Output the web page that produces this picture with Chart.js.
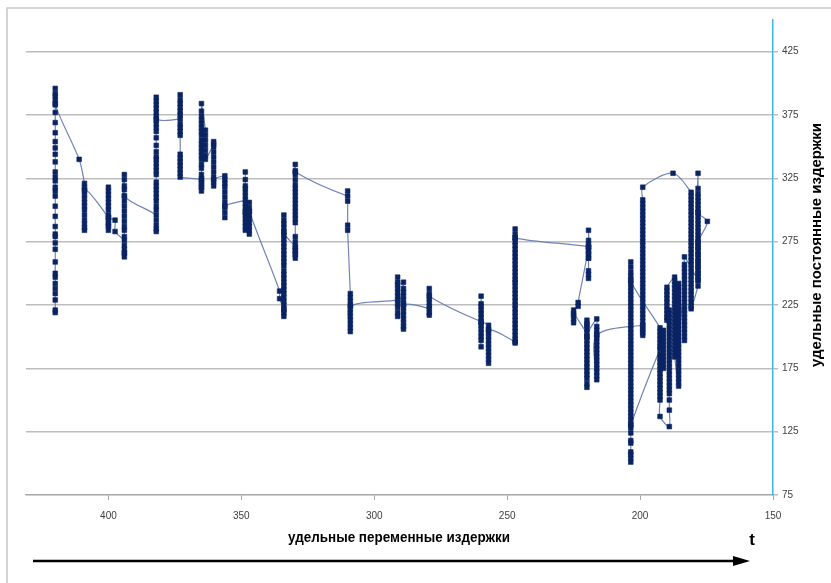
<!DOCTYPE html>
<html>
<head>
<meta charset="utf-8">
<script src="https://cdn.jsdelivr.net/npm/chart.js@4.4.1/dist/chart.umd.min.js"></script>
<style>
  html, body { margin: 0; padding: 0; background: #ffffff; }
  #wrap { width: 831px; height: 583px; position: relative; }
</style>
</head>
<body>
<div id="wrap"><canvas id="c" width="831" height="583"></canvas></div>
<script>
// Axis ticks
const xTicks = [150, 200, 250, 300, 350, 400];
const yTicks = [75, 125, 175, 225, 275, 325, 375, 425];

// Texts
const xTitle = 'удельные переменные издержки';
const yTitle = 'удельные постоянные издержки';
const timeLabel = 't';

// Observations in time order: each run is one value of variable cost
// with the fixed-cost values recorded at it, in sequence.
const runX = [
  420, 411, 409, 400, 397.5, 394, 382, 373, 365, 363.5,
  360.4, 356.2, 348.5, 347, 335.6, 334, 329.7, 310, 309, 291.2,
  289, 279.3, 259.8, 257, 247, 219.4, 223.3, 225, 220, 216.3,
  199, 187.6, 180.8, 178.2, 174.7, 178.2, 183.3, 185.5, 187, 189.9,
  189, 192.5, 203.5, 192.5, 191.2
];
const runY = [
  [219, 221, 229, 234, 238, 242, 247, 250, 259, 269, 274, 279, 281, 287, 295, 303, 311, 315, 318, 323, 326, 330, 338, 344, 349, 354, 361, 369, 377, 384, 387, 390, 392, 396, 383],
  [340],
  [321, 318, 315, 312, 309, 306, 303, 300, 296, 292, 289, 286, 284, 316],
  [294, 290, 287, 284, 288, 292, 296, 300, 303, 306, 309, 312, 315, 318, 294],
  [292, 283],
  [276, 272, 269, 266, 263, 266, 279, 284, 287, 291, 295, 299, 303, 307, 311, 316, 319, 324, 328, 311],
  [296, 292, 288, 285, 283, 300, 303, 307, 310, 313, 316, 319, 322, 328, 331, 334, 337, 340, 342, 346, 351, 357, 362, 365, 368, 371, 374, 377, 380, 383, 386, 389, 372],
  [372, 375, 378, 381, 384, 387, 391, 368, 365, 362, 359, 344, 341, 338, 335, 332, 329, 326],
  [324, 321, 318, 315, 318, 322, 325, 328, 333, 336, 340, 343, 346, 349, 352, 355, 359, 362, 365, 368, 371, 374, 378, 384],
  [363, 359, 355, 351, 347, 343, 340],
  [352, 354, 350, 346, 342, 338, 334, 330, 326, 322, 319, 324],
  [327, 324, 321, 318, 314, 310, 306, 302, 298, 294, 303],
  [308, 311, 314, 317, 319, 324, 330, 305, 302, 299, 296, 293, 290, 287, 284, 298],
  [281, 284, 287, 290, 293, 296, 299, 302, 306, 299],
  [236, 230],
  [221, 216, 219, 222, 225, 228, 231, 234, 237, 240, 243, 246, 249, 252, 256, 259, 262, 265, 268, 271, 274, 277, 280, 283, 286, 289, 292, 296, 282],
  [271, 268, 265, 262, 265, 268, 271, 275, 279, 290, 293, 296, 299, 302, 305, 308, 311, 314, 317, 320, 324, 328, 331, 336, 330],
  [311, 315, 307, 288, 284],
  [234, 231, 228, 225, 222, 219, 216, 213, 210, 207, 204, 224],
  [229, 232, 235, 238, 241, 243, 247, 226, 223, 219, 216],
  [243, 238, 235, 232, 229, 226, 223, 220, 217, 214, 211, 208, 206, 225],
  [222, 219, 217, 224, 227, 230, 234, 238, 232],
  [212, 215, 218, 221, 224, 226, 232, 209, 206, 203, 200, 197, 192, 211],
  [209, 206, 203, 200, 197, 194, 191, 188, 185, 182, 179, 205],
  [196, 195, 198, 201, 204, 207, 210, 213, 216, 219, 222, 225, 228, 231, 234, 237, 240, 243, 245, 248, 251, 254, 257, 260, 263, 266, 269, 272, 275, 278, 281, 285, 278],
  [271, 268, 265, 262, 252, 249, 246, 262, 266, 270, 273, 276, 284, 271],
  [227, 224],
  [221, 217, 214, 211, 218],
  [203, 206, 209, 213, 210, 200, 197, 194, 191, 188, 185, 182, 179, 176, 173, 170, 167, 163, 160, 200],
  [214, 208, 205, 202, 199, 196, 193, 190, 187, 184, 181, 178, 175, 172, 169, 166, 201],
  [209, 206, 203, 201, 205, 209, 212, 215, 218, 221, 224, 227, 230, 233, 236, 239, 242, 245, 248, 251, 254, 257, 260, 263, 266, 269, 272, 275, 278, 281, 284, 287, 290, 293, 296, 299, 302, 305, 308, 318],
  [329],
  [314, 311, 308, 305, 302, 299, 296, 293, 290, 287, 284, 281, 278, 275, 272, 269, 266, 263, 260, 257, 254, 251, 248, 245, 242, 239, 236, 233, 230, 227, 224, 222],
  [240, 244, 247, 250, 253, 256, 259, 262, 265, 268, 271, 274, 277, 280, 283, 286, 289, 292, 295, 298, 301, 304, 307, 310, 313, 317, 329, 298],
  [291],
  [275, 270, 265, 260, 255, 250, 245],
  [263, 257, 254, 251, 248, 245, 242, 239, 236, 233, 230, 227, 224, 221, 218, 215, 212, 209, 206, 203, 200, 197],
  [242, 239, 236, 233, 230, 227, 224, 221, 218, 215, 212, 209, 206, 203, 200, 197, 194, 191, 188, 185, 182, 179, 176, 173, 170, 167, 164, 161],
  [184, 187, 190, 193, 196, 199, 202, 205, 208, 211, 214, 217, 220, 223, 226, 229, 232, 235, 238, 241, 244, 247],
  [239, 236, 233, 230, 227, 224, 221, 218, 215, 213],
  [221, 218, 215, 212, 209, 206, 203, 200, 197, 194, 191, 188, 185, 182, 179, 176, 173, 170, 167, 164, 161, 158, 155, 150, 142, 129],
  [137, 150, 153, 156, 159, 162, 165, 168, 171, 174, 177, 180, 183, 186, 190],
  [130, 124, 118, 116, 109, 107, 101, 104, 128, 131, 134, 137, 140, 143, 146, 149, 152, 155, 158, 161, 164, 167, 170, 173, 176, 179, 182, 185, 188, 191, 194, 197, 200, 203, 206, 209, 212, 215, 218, 221, 224, 227, 230, 233, 236, 239, 242, 245, 248, 251, 255, 259, 244],
  [207, 204, 201, 198, 195, 192],
  [205, 202, 199, 196, 193, 190, 187, 184, 181, 178, 175]
];

const points = [];
runX.forEach((x, i) => runY[i].forEach(y => points.push({ x: x, y: y })));

// Draws text squeezed horizontally to a given width (condensed look)
function fitText(ctx, text, x, y, width, size) {
  ctx.save();
  ctx.font = 'bold ' + size + 'px "Liberation Sans", Arial, sans-serif';
  const w = ctx.measureText(text).width;
  ctx.translate(x, y);
  ctx.scale(width / w, 1);
  ctx.textAlign = 'center';
  ctx.textBaseline = 'middle';
  ctx.fillStyle = '#000000';
  ctx.fillText(text, 0, 0);
  ctx.restore();
}

// Frame, axis titles and the time arrow under the chart
const decor = {
  id: 'decor',
  afterDraw(chart) {
    const ctx = chart.ctx;
    ctx.save();
    ctx.strokeStyle = '#c6c6c6';
    ctx.lineWidth = 1.5;
    ctx.beginPath();
    ctx.moveTo(7, 583);
    ctx.lineTo(7, 8);
    ctx.lineTo(831, 8);
    ctx.stroke();

    fitText(ctx, xTitle, 399, 538, 222, 14.5);

    ctx.save();
    ctx.translate(817, 245);
    ctx.rotate(-Math.PI / 2);
    fitText(ctx, yTitle, 0, 0, 244, 14.5);
    ctx.restore();

    ctx.font = 'bold 17px "Liberation Sans", Arial, sans-serif';
    ctx.fillStyle = '#000000';
    ctx.textAlign = 'center';
    ctx.textBaseline = 'middle';
    ctx.fillText(timeLabel, 752, 540);

    ctx.strokeStyle = '#000000';
    ctx.lineWidth = 2.5;
    ctx.beginPath();
    ctx.moveTo(33, 561);
    ctx.lineTo(736, 561);
    ctx.stroke();
    ctx.beginPath();
    ctx.moveTo(733, 556);
    ctx.lineTo(750, 561);
    ctx.lineTo(733, 566);
    ctx.closePath();
    ctx.fillStyle = '#000000';
    ctx.fill();
    ctx.restore();
  }
};

const tickFont = { family: '"Liberation Sans", Arial, sans-serif', size: 10 };

new Chart(document.getElementById('c'), {
  type: 'scatter',
  data: {
    datasets: [{
      data: points,
      showLine: true,
      borderColor: 'rgba(104, 126, 178, 0.95)',
      borderWidth: 1.2,
      tension: 0.3,
      pointStyle: 'rect',
      pointRadius: 3.3,
      pointHoverRadius: 3.3,
      pointBackgroundColor: '#0a2463',
      pointBorderColor: '#0a2463',
      pointBorderWidth: 0.6
    }]
  },
  options: {
    responsive: false,
    animation: false,
    devicePixelRatio: 1,
    layout: { padding: { left: 26, top: 20, right: 0, bottom: 0 } },
    plugins: {
      legend: { display: false },
      tooltip: { enabled: false }
    },
    scales: {
      x: {
        type: 'linear',
        position: 'bottom',
        reverse: true,
        min: 150,
        max: 431,
        afterBuildTicks: s => { s.ticks = xTicks.map(v => ({ value: v })); },
        afterFit: s => { s.height = 88; },
        grid: { drawOnChartArea: false, drawTicks: true, tickLength: 5, color: '#a8a8a8', lineWidth: 1 },
        border: { color: '#a8a8a8', width: 1.2 },
        ticks: { font: tickFont, color: '#404040', padding: 10, maxRotation: 0 }
      },
      y: {
        type: 'linear',
        position: 'right',
        min: 75,
        max: 450,
        afterBuildTicks: s => { s.ticks = yTicks.map(v => ({ value: v })); },
        afterFit: s => { s.width = 58; },
        grid: { color: '#bdbdbd', lineWidth: 1.5, tickLength: 5 },
        border: { color: '#3db5e6', width: 1.5 },
        ticks: { font: tickFont, color: '#404040', padding: 4 }
      }
    }
  },
  plugins: [decor]
});
</script>
</body>
</html>
